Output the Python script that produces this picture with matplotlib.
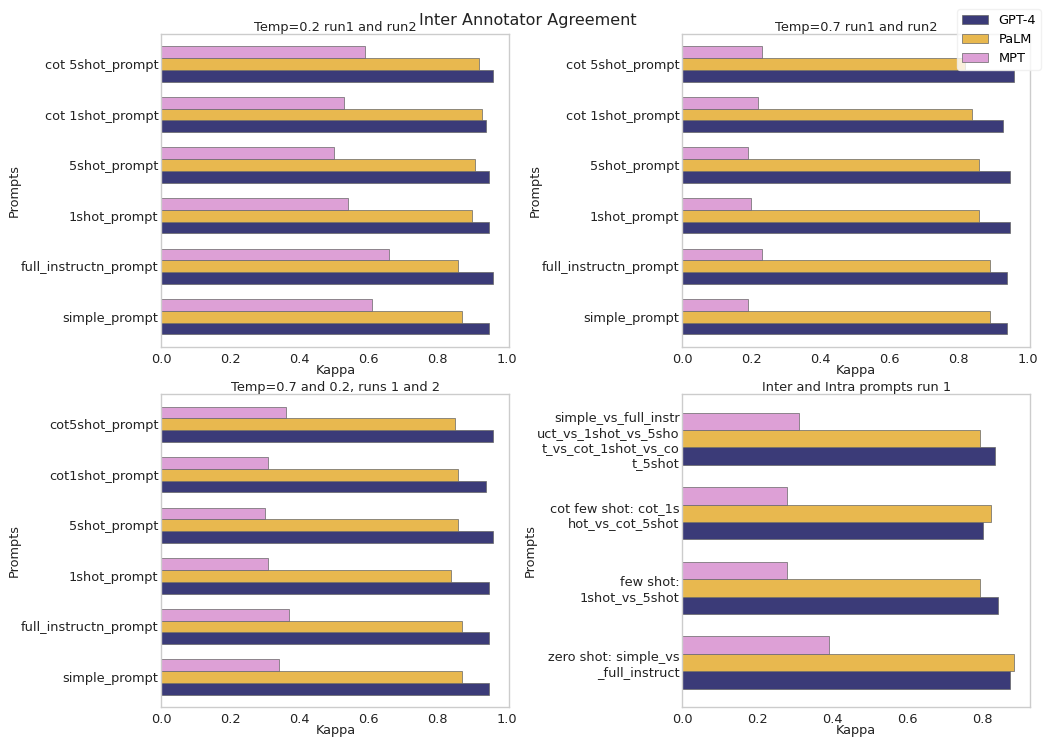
import matplotlib.pyplot as plt
import numpy as np

models = ["GPT-4", "PaLM", "MPT"]
colors = ["#3b3b78", "#e8b84f", "#dda0d6"]

prompts6 = ["simple_prompt", "full_instructn_prompt", "1shot_prompt",
            "5shot_prompt", "cot 1shot_prompt", "cot 5shot_prompt"]
prompts6b = ["simple_prompt", "full_instructn_prompt", "1shot_prompt",
             "5shot_prompt", "cot1shot_prompt", "cot5shot_prompt"]
prompts4 = ["zero shot: simple_vs\n_full_instruct",
            "few shot:\n1shot_vs_5shot",
            "cot few shot: cot_1s\nhot_vs_cot_5shot",
            "simple_vs_full_instr\nuct_vs_1shot_vs_5sho\nt_vs_cot_1shot_vs_co\nt_5shot"]

# values listed bottom -> top (simple_prompt first)
t02_gpt = [0.95, 0.96, 0.95, 0.95, 0.94, 0.96]
t02_palm = [0.87, 0.86, 0.90, 0.91, 0.93, 0.92]
t02_mpt = [0.61, 0.66, 0.54, 0.50, 0.53, 0.59]

t07_gpt = [0.94, 0.94, 0.95, 0.95, 0.93, 0.96]
t07_palm = [0.89, 0.89, 0.86, 0.86, 0.84, 0.82]
t07_mpt = [0.19, 0.23, 0.20, 0.19, 0.22, 0.23]

both_gpt = [0.95, 0.95, 0.95, 0.96, 0.94, 0.96]
both_palm = [0.87, 0.87, 0.84, 0.86, 0.86, 0.85]
both_mpt = [0.34, 0.37, 0.31, 0.30, 0.31, 0.36]

inter_gpt = [0.874, 0.843, 0.803, 0.833]
inter_palm = [0.884, 0.793, 0.823, 0.793]
inter_mpt = [0.391, 0.280, 0.280, 0.311]

panels = [
    ("Temp=0.2 run1 and run2", prompts6, [t02_gpt, t02_palm, t02_mpt]),
    ("Temp=0.7 run1 and run2", prompts6, [t07_gpt, t07_palm, t07_mpt]),
    ("Temp=0.7 and 0.2, runs 1 and 2", prompts6b, [both_gpt, both_palm, both_mpt]),
    ("Inter and Intra prompts run 1", prompts4, [inter_gpt, inter_palm, inter_mpt]),
]

plt.rcParams["font.family"] = ["DejaVu Sans"]
plt.rcParams["font.size"] = 9.3

fig = plt.figure(figsize=(10.51, 7.4), dpi=100)
lefts = [0.1535, 0.6492, 0.1535, 0.6492]
bottoms = [0.531, 0.531, 0.0442, 0.0442]
w, h = 0.3311, 0.4235

bh = 0.233
handles = None
for i, (title, labels, vals) in enumerate(panels):
    ax = fig.add_axes([lefts[i], bottoms[i], w, h])
    y = np.arange(len(labels))
    bars = []
    for k, (v, c) in enumerate(zip(vals, colors)):
        b = ax.barh(y + (k - 1) * bh, v, height=bh, color=c,
                    edgecolor="#666666", linewidth=0.5, label=models[k])
        bars.append(b)
    handles = bars
    ax.set_yticks(y)
    ax.set_yticklabels(labels, color="#222222")
    ax.set_ylim(-0.6, len(labels) - 0.4)
    ax.margins(x=0.05)
    ax.set_xlabel("Kappa", color="#222222", labelpad=-1)
    ax.set_ylabel("Prompts", color="#222222", labelpad=0)
    ax.set_title(title, fontsize=9.3, color="#222222", pad=2)
    ax.tick_params(axis="y", length=0, pad=2, colors="#222222")
    ax.tick_params(axis="x", length=0, pad=4, colors="#222222")
    for s in ax.spines.values():
        s.set_color("#cccccc")
        s.set_linewidth(1.0)

fig.suptitle("Inter Annotator Agreement", fontsize=11.5, x=0.502, y=0.983,
             color="#222222")
leg = fig.legend(handles, models, loc="upper right",
                 bbox_to_anchor=(1041 / 1051, 1 - 9 / 740), fontsize=9.3,
                 framealpha=0.8, edgecolor="#eeeeee", handlelength=2.0,
                 borderpad=0.4, labelspacing=0.45, borderaxespad=0,
                 handletextpad=0.8)

fig.savefig("out.png", dpi=100)
